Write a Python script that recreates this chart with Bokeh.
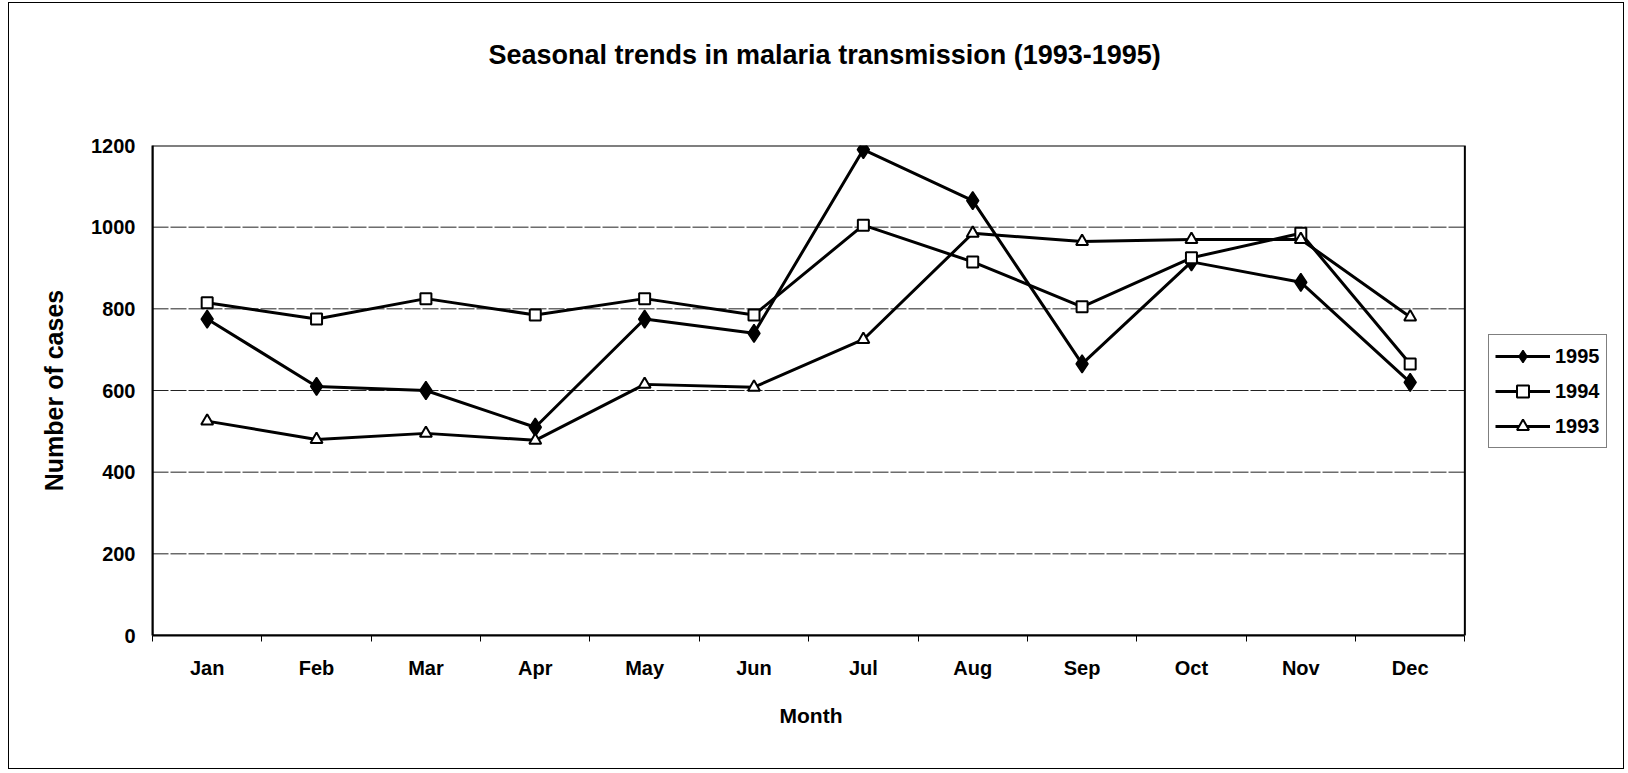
from bokeh.plotting import figure
from bokeh.models import FixedTicker, Range1d, Legend, LegendItem, Title
from bokeh.embed import file_html
from bokeh.resources import INLINE

months = ["Jan", "Feb", "Mar", "Apr", "May", "Jun", "Jul", "Aug", "Sep", "Oct", "Nov", "Dec"]
cases_1995 = [775, 610, 600, 510, 775, 740, 1190, 1065, 665, 915, 865, 620]
cases_1994 = [815, 775, 825, 785, 825, 785, 1005, 915, 805, 925, 985, 665]
cases_1993 = [525, 480, 495, 478, 615, 608, 725, 985, 965, 970, 970, 780]
y_ticks = [0, 200, 400, 600, 800, 1000, 1200]

FONT = "Liberation Sans"

n = len(months)
x_pos = [i + 0.5 for i in range(n)]
X_END = n + 1.35  # room on the right for the legend

p = figure(width=1616, height=767, output_backend="svg", toolbar_location=None,
           x_range=Range1d(0, X_END), y_range=Range1d(y_ticks[0], y_ticks[-1]),
           min_border_left=143, min_border_right=13, min_border_top=142, min_border_bottom=135,
           title="Seasonal trends in malaria transmission (1993-1995)")
p.styles = {"border": "1px solid black", "margin-left": "8px", "margin-top": "2px"}

# spacer between frame and title
p.add_layout(Title(text=" ", text_font_size="1px", standoff=68), "above")

p.title.align = "left"
p.title.text_font = FONT
p.title.text_font_style = "bold"
p.title.text_font_size = "27px"
p.title.text_color = "black"
p.title.standoff = 10
p.title.offset = 336

p.outline_line_color = None
p.background_fill_color = "white"
p.border_fill_color = "white"

# x axis
p.xaxis.bounds = (0, n)
p.xaxis.ticker = FixedTicker(ticks=x_pos, minor_ticks=list(range(n + 1)))
p.xaxis.major_label_overrides = {x: m for x, m in zip(x_pos, months)}
p.xaxis.major_tick_line_color = None
p.xaxis.major_tick_out = 0
p.xaxis.major_tick_in = 0
p.xaxis.minor_tick_line_color = "black"
p.xaxis.minor_tick_line_width = 1
p.xaxis.minor_tick_out = 6
p.xaxis.minor_tick_in = 0
p.xaxis.axis_line_color = "black"
p.xaxis.axis_line_width = 2
p.xaxis.major_label_standoff = 15

# x axis title, centred under the month axis
p.add_layout(Title(text="Month", align="left", offset=627, standoff=40,
                   text_font=FONT, text_font_style="bold", text_font_size="21px",
                   text_color="black"), "below")

# y axis
p.yaxis.ticker = FixedTicker(ticks=y_ticks)
p.yaxis.major_tick_line_color = None
p.yaxis.minor_tick_line_color = None
p.yaxis.major_tick_out = 0
p.yaxis.major_tick_in = 0
p.yaxis.axis_line_color = "black"
p.yaxis.axis_line_width = 2
p.yaxis.major_label_standoff = 17
p.yaxis.axis_label = "Number of cases"
p.yaxis.axis_label_standoff = 20

for ax in (p.xaxis, p.yaxis):
    ax.major_label_text_font = FONT
    ax.major_label_text_font_style = "bold"
    ax.major_label_text_font_size = "20px"
    ax.major_label_text_color = "black"
    ax.axis_label_text_font = FONT
    ax.axis_label_text_font_style = "bold"
    ax.axis_label_text_color = "black"
p.yaxis.axis_label_text_font_size = "25px"

p.xgrid.grid_line_color = None
p.ygrid.grid_line_color = None

# horizontal gridlines across the month area only
grid_vals = y_ticks[1:-1]
p.segment(x0=[0] * len(grid_vals), x1=[n] * len(grid_vals), y0=grid_vals, y1=grid_vals,
          line_color="#222222", line_width=1, line_dash="16 2")

# plot-area box
p.quad(left=0, right=n, bottom=y_ticks[0], top=y_ticks[-1],
       fill_color=None, line_color="black", line_width=2)

LW = 3

l95 = p.line(x_pos, cases_1995, line_color="black", line_width=LW)
s95 = p.scatter(x_pos, cases_1995, marker="diamond", size=18,
                fill_color="black", line_color="black", line_width=1.5)

l94 = p.line(x_pos, cases_1994, line_color="black", line_width=LW)
s94 = p.scatter(x_pos, cases_1994, marker="square", size=11,
                fill_color="white", line_color="black", line_width=2)

l93 = p.line(x_pos, cases_1993, line_color="black", line_width=LW)
s93 = p.scatter(x_pos, cases_1993, marker="triangle", size=12,
                fill_color="white", line_color="black", line_width=2)

legend = Legend(items=[
    LegendItem(label="1995", renderers=[l95, s95]),
    LegendItem(label="1994", renderers=[l94, s94]),
    LegendItem(label="1993", renderers=[l93, s93]),
], location=(1336, 187))
legend.label_text_font = FONT
legend.label_text_font_style = "bold"
legend.label_text_font_size = "20px"
legend.label_text_color = "black"
legend.glyph_width = 55
legend.glyph_height = 30
legend.label_height = 30
legend.label_standoff = 5
legend.spacing = 5
legend.padding = 6
legend.margin = 0
legend.border_line_color = "black"
legend.border_line_width = 1
legend.background_fill_color = "white"
legend.background_fill_alpha = 1
p.add_layout(legend)

open("out.html", "w").write(file_html(p, INLINE))
